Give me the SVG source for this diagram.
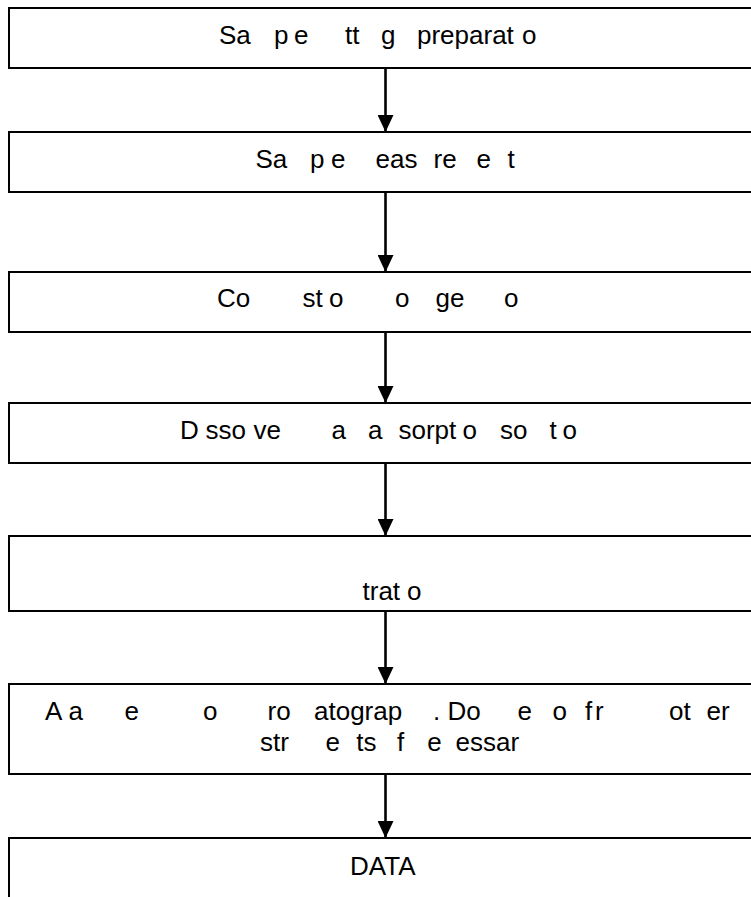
<svg xmlns="http://www.w3.org/2000/svg" width="751" height="897" viewBox="0 0 751 897">
<style>
.box{fill:#ffffff;stroke:#000000;stroke-width:2}
.lbl{font-family:"Liberation Sans",Arial,sans-serif;font-size:26px;fill:#000000}
.conn{stroke:#000000;stroke-width:2.6;fill:none;marker-end:url(#ah)}
</style>
<defs>
<marker id="ah" viewBox="0 0 17 16" refX="17" refY="8" markerWidth="17" markerHeight="16" orient="auto" markerUnits="userSpaceOnUse">
<path d="M0,0 L17,8 L0,16 z" fill="#000000"/>
</marker>
</defs>
<rect width="751" height="897" fill="#ffffff"/>
<g id="connectors">
<line class="conn" x1="385.5" y1="68" x2="385.5" y2="132"/>
<line class="conn" x1="385.5" y1="192" x2="385.5" y2="272"/>
<line class="conn" x1="385.5" y1="332" x2="385.5" y2="403"/>
<line class="conn" x1="385.5" y1="463" x2="385.5" y2="536"/>
<line class="conn" x1="385.5" y1="611" x2="385.5" y2="684"/>
<line class="conn" x1="385.5" y1="774" x2="385.5" y2="838"/>
</g>
<g id="n1">
<rect class="box" x="9" y="8" width="770" height="60"/>
<text class="lbl" y="44"><tspan x="219">Sa</tspan><tspan x="274">p</tspan><tspan x="294">e</tspan><tspan x="345">tt</tspan><tspan x="381">g</tspan><tspan x="417">preparat</tspan><tspan x="522">o</tspan></text>
</g>
<g id="n2">
<rect class="box" x="9" y="132" width="770" height="60"/>
<text class="lbl" y="168"><tspan x="255.5">Sa</tspan><tspan x="310">p</tspan><tspan x="331">e</tspan><tspan x="375.5">eas</tspan><tspan x="433.5">re</tspan><tspan x="476.5">e</tspan><tspan x="507.5">t</tspan></text>
</g>
<g id="n3">
<rect class="box" x="9" y="272" width="770" height="60"/>
<text class="lbl" y="307"><tspan x="217">Co</tspan><tspan x="302.5">st</tspan><tspan x="329">o</tspan><tspan x="395">o</tspan><tspan x="435.5">ge</tspan><tspan x="504">o</tspan></text>
</g>
<g id="n4">
<rect class="box" x="9" y="403" width="770" height="60"/>
<text class="lbl" y="439"><tspan x="180">D</tspan><tspan x="205.5">sso</tspan><tspan x="253.5">ve</tspan><tspan x="331.5">a</tspan><tspan x="368">a</tspan><tspan x="398.5">sorpt</tspan><tspan x="462.5">o</tspan><tspan x="500">so</tspan><tspan x="549.5">t</tspan><tspan x="562.5">o</tspan></text>
</g>
<g id="n5">
<rect class="box" x="9" y="536" width="770" height="75"/>
<text class="lbl" y="600"><tspan x="362.5">trat</tspan><tspan x="407">o</tspan></text>
</g>
<g id="n6">
<rect class="box" x="9" y="684" width="770" height="90"/>
<text class="lbl" y="720"><tspan x="45">A</tspan><tspan x="68.5">a</tspan><tspan x="124.5">e</tspan><tspan x="203">o</tspan><tspan x="267.5">ro</tspan><tspan x="314">atograp</tspan><tspan x="433">.</tspan><tspan x="447.5">Do</tspan><tspan x="517.5">e</tspan><tspan x="552.5">o</tspan><tspan x="585">f</tspan><tspan x="595">r</tspan><tspan x="669">ot</tspan><tspan x="706.5">er</tspan></text>
<text class="lbl" y="751"><tspan x="260">str</tspan><tspan x="325.5">e</tspan><tspan x="356.3">ts</tspan><tspan x="397">f</tspan><tspan x="427.3">e</tspan><tspan x="455.5">essar</tspan></text>
</g>
<g id="n7">
<rect class="box" x="9" y="838" width="770" height="100"/>
<text class="lbl" y="875"><tspan x="350">DATA</tspan></text>
</g>
</svg>
